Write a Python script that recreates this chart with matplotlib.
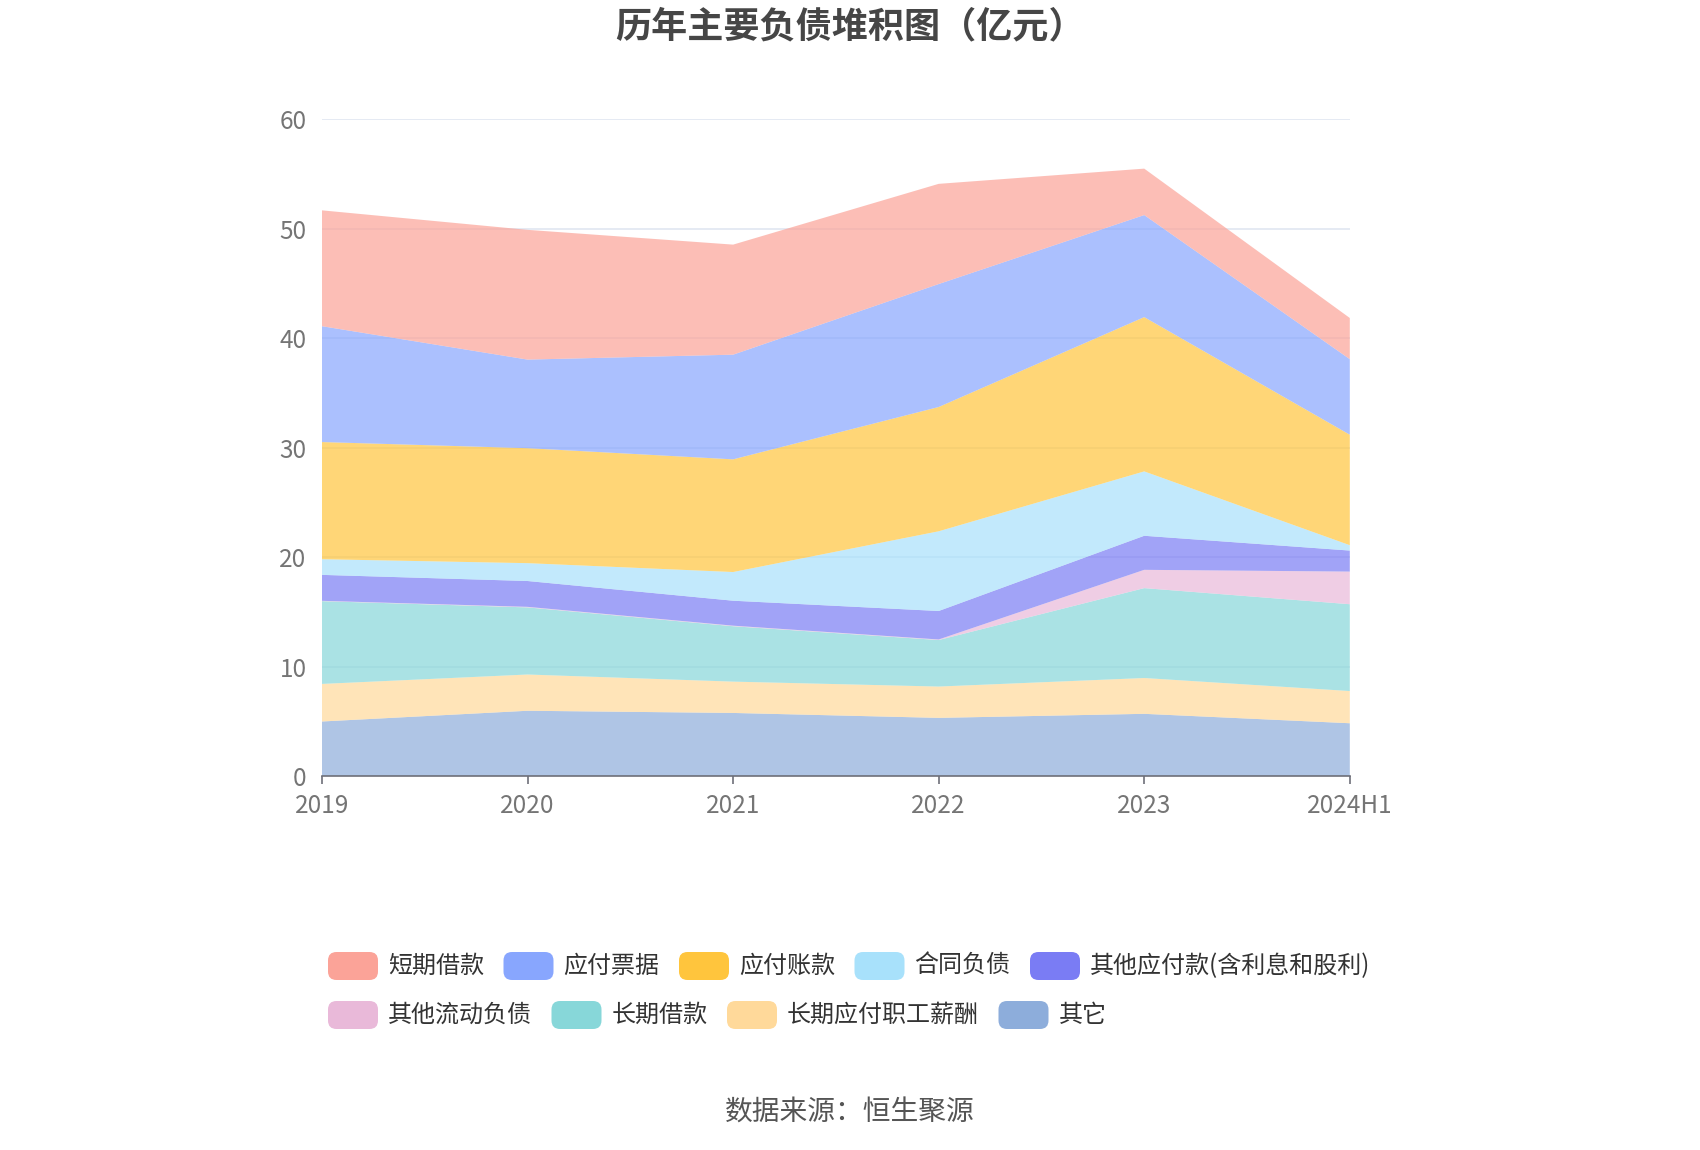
import matplotlib
matplotlib.use("Agg")
import matplotlib.pyplot as plt
from matplotlib.patches import FancyBboxPatch
import numpy as np

plt.rcParams['font.family'] = ['Noto Sans CJK SC', 'DejaVu Sans']

years = ["2019", "2020", "2021", "2022", "2023", "2024H1"]

# values in 亿元
short_loan = [10.58, 11.85, 10.05, 9.15, 4.24, 3.76]        # 短期借款
notes_payable = [10.58, 8.09, 9.56, 11.23, 9.32, 6.90]      # 应付票据
accounts_payable = [10.70, 10.50, 10.29, 11.35, 14.09, 10.09]  # 应付账款
contract_liab = [1.43, 1.63, 2.62, 7.28, 5.88, 0.49]        # 合同负债
other_payable = [2.37, 2.36, 2.28, 2.60, 3.11, 1.92]        # 其他应付款(含利息和股利)
other_current = [0.03, 0.05, 0.05, 0.05, 1.67, 2.98]        # 其他流动负债
long_loan = [7.56, 6.13, 5.06, 4.25, 8.21, 7.93]            # 长期借款
long_emp = [3.43, 3.31, 2.86, 2.86, 3.27, 2.94]             # 长期应付职工薪酬
others = [4.98, 5.96, 5.76, 5.31, 5.68, 4.82]               # 其它

legend_names = ["短期借款", "应付票据", "应付账款", "合同负债", "其他应付款(含利息和股利)",
                "其他流动负债", "长期借款", "长期应付职工薪酬", "其它"]
legend_colors = ["#fba398", "#88a6fe", "#ffc53d", "#a8e1fb", "#7a7cf4",
                 "#e9b9d9", "#87d7d9", "#ffd99a", "#8daddb"]
series = [short_loan, notes_payable, accounts_payable, contract_liab, other_payable,
          other_current, long_loan, long_emp, others]

fig = plt.figure(figsize=(17, 11.5), dpi=100)
ax = fig.add_axes([0.1894, 0.3252, 0.6046, 0.5713])

x = np.arange(len(years))
# stack bottom to top: reverse legend order
stack_vals = [np.array(s) for s in series[::-1]]
stack_cols = legend_colors[::-1]
ax.stackplot(x, *stack_vals, colors=stack_cols, alpha=0.7, linewidth=0, zorder=2)

ax.set_xlim(0, len(years) - 1)
ax.set_ylim(0, 60)
ax.set_yticks([0, 10, 20, 30, 40, 50, 60])
ax.yaxis.grid(True, color="#e0e6f1", linewidth=1.2, zorder=1)
ax.set_axisbelow(True)
for s in ["left", "right", "top"]:
    ax.spines[s].set_visible(False)
ax.spines["bottom"].set_color("#6e7079")
ax.spines["bottom"].set_linewidth(1.2)
ax.spines["bottom"].set_zorder(3)
ax.set_xticks(x)
ax.set_xticklabels(years)
ax.tick_params(axis="x", colors="#6e7079", length=6, width=1.2, pad=6, labelsize=17.5,
               labelcolor="#757575")
ax.tick_params(axis="y", length=0, pad=11, labelsize=17.5, labelcolor="#757575")

fig.text(0.5, 0.977, "历年主要负债堆积图（亿元）", ha="center", va="center",
         fontsize=26, fontweight="bold", color="#464646")

# legend (manual, echarts style)
renderer = fig.canvas.get_renderer()
W, H = 1700, 1150
rows = [[0, 1, 2, 3, 4], [5, 6, 7, 8]]
row_y = [966, 1015]
sw_w, sw_h = 50, 28
start_x = 328
for r, items in enumerate(rows):
    cx = start_x
    yc = row_y[r]
    for i in items:
        p = FancyBboxPatch(((cx) / W, 1 - (yc + sw_h / 2) / H), sw_w / W, sw_h / H,
                           boxstyle="round,pad=0,rounding_size=0.005",
                           transform=fig.transFigure, facecolor=legend_colors[i],
                           edgecolor="none", mutation_aspect=W / H)
        fig.patches.append(p)
        t = fig.text((cx + sw_w + 10) / W, 1 - yc / H, legend_names[i], ha="left",
                     va="center", fontsize=17.3, color="#333333")
        bb = t.get_window_extent(renderer=renderer)
        cx = cx + sw_w + 10 + bb.width + 19.5

fig.text(0.5, 1 - 1113 / H, "数据来源：恒生聚源", ha="center", va="center",
         fontsize=20, color="#555555")

fig.savefig("out.png", dpi=100, facecolor="white")
